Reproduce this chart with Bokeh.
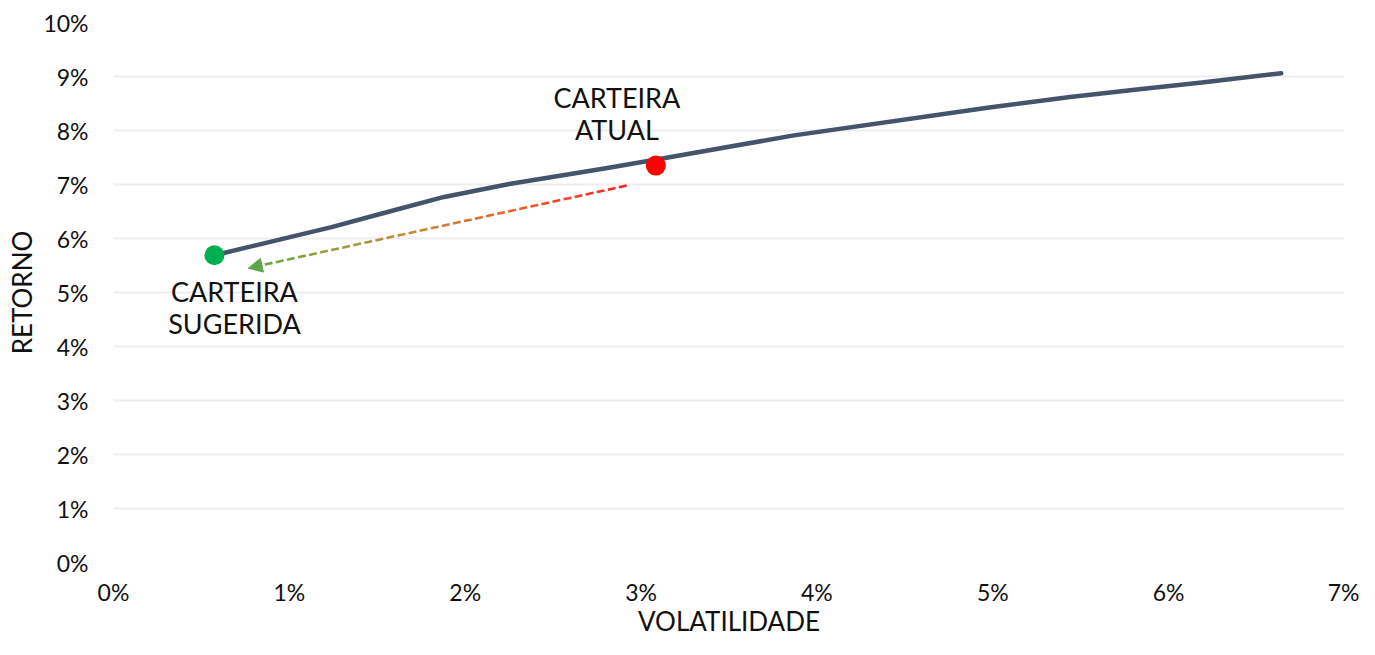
from bokeh.plotting import figure
from bokeh.models import FixedTicker, Range1d, Arrow, NormalHead
from bokeh.core.properties import value
from bokeh.embed import file_html
from bokeh.resources import INLINE

# ---- data (percent) ----
frontier_vol = [0.574, 1.24, 1.50, 1.88, 2.25, 2.80, 3.08, 3.87, 4.99, 5.44, 5.82, 6.19, 6.64]
frontier_ret = [5.69, 6.21, 6.44, 6.77, 7.01, 7.30, 7.46, 7.91, 8.43, 8.62, 8.76, 8.89, 9.06]

current_name = "CARTEIRA\nATUAL"
current_vol = [3.084]
current_ret = [7.35]

suggested_name = "CARTEIRA\nSUGERIDA"
suggested_vol = [0.574]
suggested_ret = [5.69]

arrow_from = [2.918, 6.98]
arrow_to = [0.766, 5.45]

x_ticks = [0, 1, 2, 3, 4, 5, 6, 7]
x_tick_labels = ["0%", "1%", "2%", "3%", "4%", "5%", "6%", "7%"]
y_ticks = [0, 1, 2, 3, 4, 5, 6, 7, 8, 9, 10]
y_tick_labels = ["0%", "1%", "2%", "3%", "4%", "5%", "6%", "7%", "8%", "9%", "10%"]

FONT = "Lato"
TEXT = "#111111"

p = figure(width=1359, height=639, output_backend="svg", toolbar_location=None,
           x_range=Range1d(0, 7), y_range=Range1d(0, 10),
           min_border_left=113, min_border_right=15, min_border_top=22, min_border_bottom=76,
           x_axis_label="VOLATILIDADE", y_axis_label="RETORNO")
p.outline_line_color = None
p.background_fill_color = "white"
p.border_fill_color = "white"

p.xgrid.visible = False
p.ygrid.grid_line_color = "#EEEEEE"
p.ygrid.grid_line_width = 2

p.xaxis.ticker = FixedTicker(ticks=x_ticks)
p.yaxis.ticker = FixedTicker(ticks=y_ticks)
p.xaxis.major_label_overrides = {t: l for t, l in zip(x_ticks, x_tick_labels)}
p.yaxis.major_label_overrides = {t: l for t, l in zip(y_ticks, y_tick_labels)}
for ax in (p.xaxis, p.yaxis):
    ax.axis_line_color = None
    ax.major_tick_line_color = None
    ax.minor_tick_line_color = None
    ax.major_tick_in = 0
    ax.major_tick_out = 0
    ax.major_label_text_font = FONT
    ax.major_label_text_font_size = "23px"
    ax.major_label_text_color = TEXT
    ax.axis_label_text_font = FONT
    ax.axis_label_text_font_size = "26px"
    ax.axis_label_text_font_style = "normal"
    ax.axis_label_text_color = TEXT
p.yaxis.major_label_standoff = 25
p.yaxis.axis_label_standoff = 2
p.xaxis.major_label_standoff = 15
p.xaxis.axis_label_standoff = -4

# frontier
p.line(frontier_vol, frontier_ret, line_color="#44546A", line_width=4.5,
       line_cap="round", line_join="round")

# gradient dashed arrow (red -> green)
stops = [(0.0, (255, 30, 30)), (0.3, (235, 95, 40)), (0.55, (200, 135, 55)),
         (0.8, (150, 160, 62)), (1.0, (90, 168, 72))]

def grad(t):
    for (t0, c0), (t1, c1) in zip(stops[:-1], stops[1:]):
        if t <= t1:
            f = (t - t0) / (t1 - t0)
            return "#%02x%02x%02x" % tuple(int(round(a + (b - a) * f)) for a, b in zip(c0, c1))
    return "#%02x%02x%02x" % stops[-1][1]

sx, sy = arrow_from
ex, ey = arrow_to
n_dash = 33
shaft_end = 0.965
period = shaft_end / n_dash
x0s, y0s, x1s, y1s, cols = [], [], [], [], []
for i in range(n_dash):
    t0 = i * period
    t1 = t0 + 0.7 * period
    x0s.append(sx + (ex - sx) * t0); y0s.append(sy + (ey - sy) * t0)
    x1s.append(sx + (ex - sx) * t1); y1s.append(sy + (ey - sy) * t1)
    cols.append(grad((t0 + t1) / 2))
p.segment(x0s, y0s, x1s, y1s, line_color=cols, line_width=2.6)
hx = sx + (ex - sx) * (shaft_end - 0.01)
hy = sy + (ey - sy) * (shaft_end - 0.01)
p.add_layout(Arrow(end=NormalHead(size=14, fill_color="#5AA847", line_color="#5AA847", line_width=1),
                   x_start=hx, y_start=hy, x_end=ex, y_end=ey, line_alpha=0))

# portfolios
p.scatter(current_vol, current_ret, size=20, fill_color="#FF0000", line_color=None)
p.scatter(suggested_vol, suggested_ret, size=20, fill_color="#00B050", line_color=None)

p.text(current_vol, current_ret, text=[current_name], x_offset=-39, y_offset=-52,
       text_align="center", text_baseline="middle", text_font=value(FONT),
       text_font_size="27px", text_color=TEXT, text_line_height=0.96)
p.text(suggested_vol, suggested_ret, text=[suggested_name], x_offset=20, y_offset=52,
       text_align="center", text_baseline="middle", text_font=value(FONT),
       text_font_size="27px", text_color=TEXT, text_line_height=0.96)

open("out.html", "w").write(file_html(p, INLINE))
